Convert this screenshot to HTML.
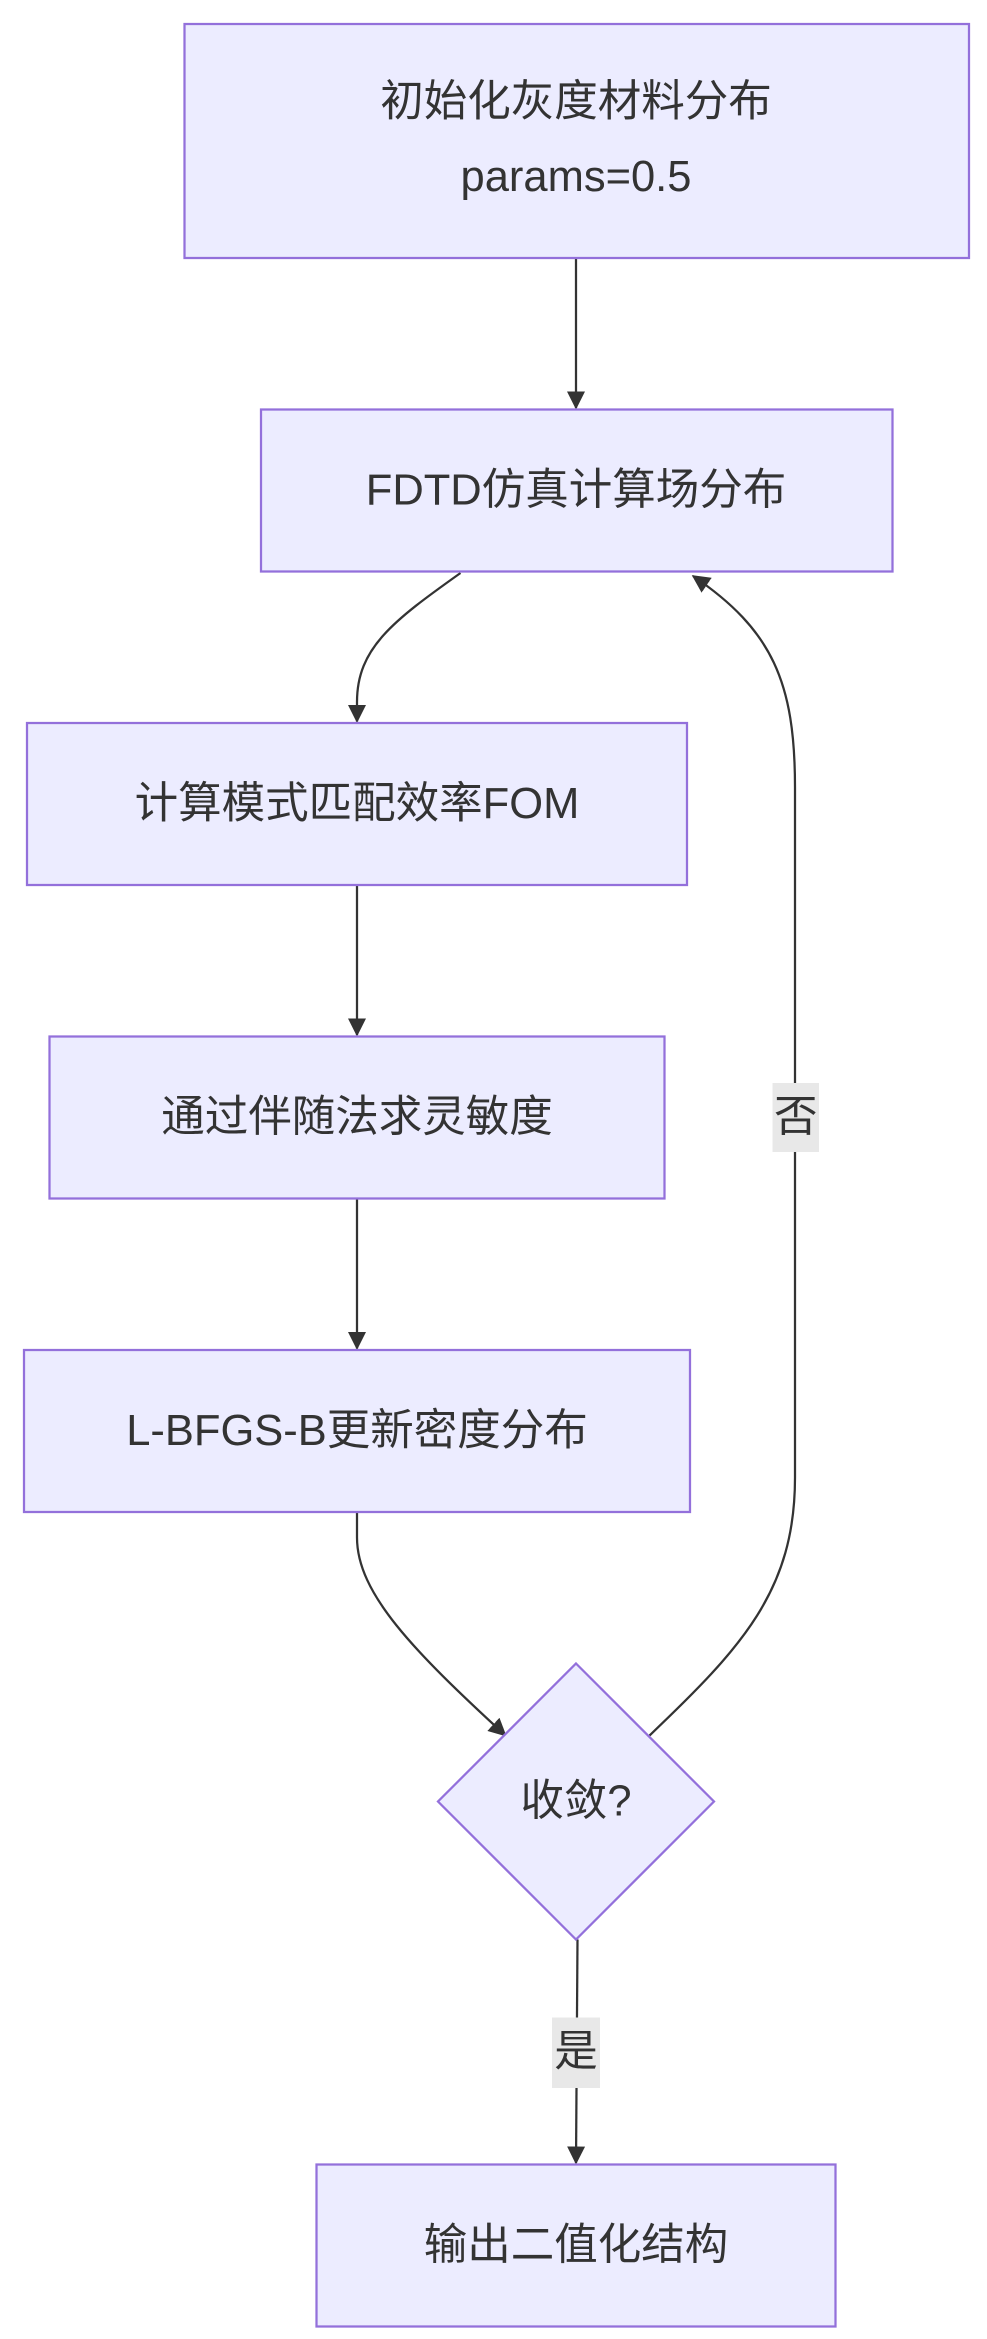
<!DOCTYPE html>
<html><head><meta charset="utf-8"><style>
html,body{margin:0;padding:0;background:#fff;}
svg{display:block;}
text{font-family:"Liberation Sans","Noto Sans CJK SC",sans-serif;fill:#333;font-size:29px;text-anchor:middle;dominant-baseline:central;}
.n{fill:#ECECFF;stroke:#9370DB;stroke-width:1.5;}
.e{fill:none;stroke:#333;stroke-width:1.5;}
</style></head><body>
<svg width="987" height="2339" viewBox="0 0 658 1559.33" xmlns="http://www.w3.org/2000/svg">
<defs>
<marker id="a" viewBox="0 0 12 12" refX="11" refY="6" markerWidth="12" markerHeight="12" markerUnits="userSpaceOnUse" orient="auto">
<path d="M0,0 L12,6 L0,12 z" fill="#333"/>
</marker>
</defs>
<!-- edges -->
<path class="e" d="M384,172 L384,272" marker-end="url(#a)"/>
<path class="e" d="M307,382 C262,414 238,432 238,468 L238,481" marker-end="url(#a)"/>
<path class="e" d="M238,590 L238,690" marker-end="url(#a)"/>
<path class="e" d="M238,799 L238,899" marker-end="url(#a)"/>
<path class="e" d="M238,1008 L238,1025 C238,1062 275,1100 337,1157" marker-end="url(#a)"/>
<path class="e" d="M433,1157 C495,1098 530,1060 530,985 L530,525 C530,455 515,420 462,384" marker-end="url(#a)"/>
<path class="e" d="M385,1293 L384,1442" marker-end="url(#a)"/>
<!-- nodes -->
<rect class="n" x="123" y="16" width="523" height="156"/>
<text x="384" y="68">初始化灰度材料分布</text>
<text x="384" y="118">params=0.5</text>
<rect class="n" x="174" y="273" width="421" height="108"/>
<text x="384" y="327">FDTD仿真计算场分布</text>
<rect class="n" x="18" y="482" width="440" height="108"/>
<text x="238" y="536">计算模式匹配效率FOM</text>
<rect class="n" x="33" y="691" width="410" height="108"/>
<text x="238" y="745">通过伴随法求灵敏度</text>
<rect class="n" x="16" y="900" width="444" height="108"/>
<text x="238" y="954">L-BFGS-B更新密度分布</text>
<polygon class="n" points="384,1109 476,1201 384,1293 292,1201"/>
<text x="384" y="1201">收敛?</text>
<rect class="n" x="211" y="1443" width="346" height="108"/>
<text x="384" y="1497">输出二值化结构</text>
<!-- edge labels -->
<rect x="515" y="722" width="31" height="46" fill="#e8e8e8"/>
<text x="530.5" y="745">否</text>
<rect x="368" y="1345" width="32" height="47" fill="#e8e8e8"/>
<text x="384" y="1368">是</text>
</svg>
</body></html>
